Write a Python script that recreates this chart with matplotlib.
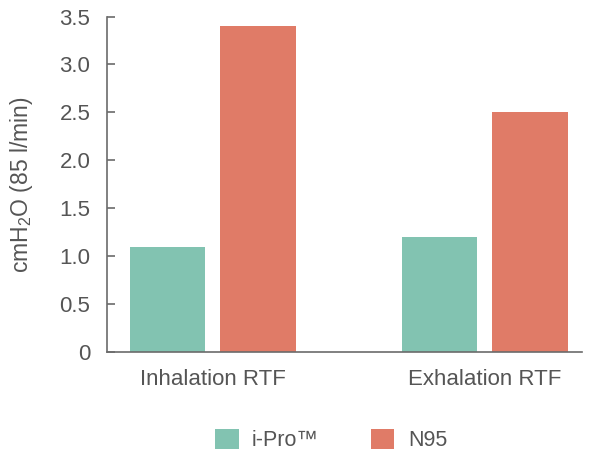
import numpy as np
import matplotlib
matplotlib.use("Agg")
import matplotlib.pyplot as plt

plt.rcParams['font.family'] = ['Liberation Sans', 'DejaVu Sans']
plt.rcParams['mathtext.fontset'] = 'custom'
plt.rcParams['mathtext.rm'] = 'Liberation Sans'

categories = ["Inhalation RTF", "Exhalation RTF"]
series_names = ["i-Pro\u2122", "N95"]
ipro_values = [1.1, 1.2]
n95_values = [3.4, 2.5]
y_ticks = [0, 0.5, 1.0, 1.5, 2.0, 2.5, 3.0, 3.5]
y_tick_labels = ["0", "0.5", "1.0", "1.5", "2.0", "2.5", "3.0", "3.5"]

teal = "#82c3b1"
red = "#e07b67"
text_col = "#555555"
axis_col = "#6b6b6b"

fig = plt.figure(figsize=(5.96, 4.62), dpi=100)
ax = fig.add_axes([107 / 596, 1 - 352 / 462, 475 / 596, 335.5 / 462])

x = np.arange(len(categories))
width = 0.276
offset = 0.167
ax.bar(x - offset, ipro_values, width, color=teal, label=series_names[0])
ax.bar(x + offset, n95_values, width, color=red, label=series_names[1])

ax.set_xlim(-0.388, 1.358)
ax.set_ylim(0, 3.5)
ax.set_yticks(y_ticks)
ax.set_yticklabels(y_tick_labels)
ax.set_xticks(x)
ax.set_xticklabels(categories, fontsize=16, color=text_col)

for s in ["top", "right"]:
    ax.spines[s].set_visible(False)
for s in ["left", "bottom"]:
    ax.spines[s].set_color(axis_col)
    ax.spines[s].set_linewidth(1.2)

ax.tick_params(axis='y', direction='in', length=6, width=1.2, color=axis_col,
               labelsize=16, labelcolor=text_col, pad=12)
ax.tick_params(axis='x', length=0, pad=12)

ax.set_ylabel(r"cmH$_\mathregular{2}$O (85 l/min)", fontsize=16.5, color=text_col)
ax.yaxis.set_label_coords(-0.152, 0.5)

fig.legend(loc='center', bbox_to_anchor=(331 / 596, 22 / 462), ncol=2, frameon=False,
           fontsize=15.5, handlelength=1.1, handleheight=1.06, handletextpad=0.63,
           columnspacing=2.4, labelcolor=text_col)

fig.savefig("out.png", dpi=100)
